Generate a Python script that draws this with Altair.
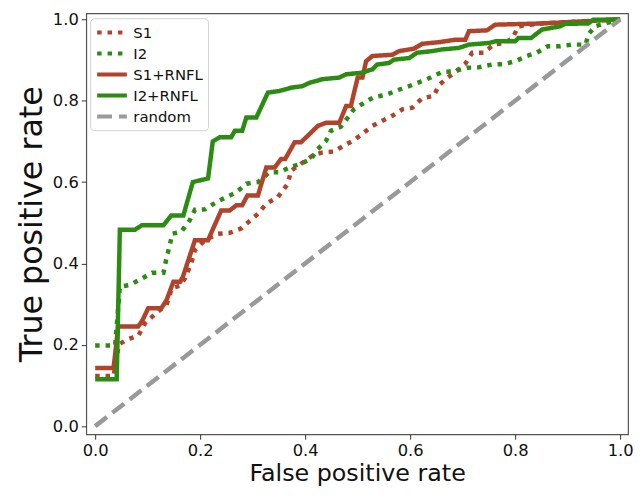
import altair as alt
import pandas as pd

# ---- data ----
S1_fpr = [0, .035, .045, .06, .082, .095, .12, .136, .146, .161, .171, .183, .19, .209, .234, .256, .278, .31, .326,
          .348, .367, .373, .392, .414, .433, .455, .474, .493, .512, .528, .547, .566, .585, .604, .623, .645, .655,
          .672, .686, .705, .718, .74, .759, .78, .795, .806, .83, .851, 1.0]
S1_tpr = [.123, .123, .2, .213, .222, .253, .282, .298, .339, .345, .363, .4, .433, .457, .473, .475, .486, .522, .547,
          .563, .596, .628, .645, .665, .673, .675, .69, .703, .722, .738, .751, .763, .779, .783, .806, .812, .839,
          .857, .871, .891, .918, .918, .938, .942, .954, .983, .987, .99, 1.0]

I2_fpr = [0, .038, .047, .066, .089, .108, .13, .135, .142, .147, .164, .18, .19, .209, .231, .237, .269, .288, .31,
          .332, .351, .37, .392, .411, .424, .44, .449, .468, .493, .512, .531, .553, .576, .598, .62, .639, .661,
          .683, .708, .73, .756, .778, .8, .822, .841, .862, .886, .909, .934, .94, .952, 1.0]
I2_tpr = [.198, .198, .343, .347, .363, .377, .377, .408, .445, .473, .478, .506, .532, .533, .551, .555, .575, .596,
          .6, .624, .624, .636, .645, .657, .681, .702, .726, .736, .779, .795, .809, .814, .826, .836, .847, .857,
          .871, .872, .881, .882, .889, .89, .897, .91, .918, .934, .934, .938, .938, .964, .983, 1.0]

S1R_fpr = [0, .035, .044, .082, .09, .101, .126, .136, .149, .162, .167, .19, .215, .222, .24, .256, .269, .28, .29,
           .31, .326, .342, .354, .362, .38, .392, .405, .424, .44, .465, .478, .487, .5, .509, .516, .528, .566, .579,
           .607, .623, .655, .686, .705, .712, .746, .762, .851, 1.0]
S1R_tpr = [.143, .143, .245, .245, .26, .29, .29, .31, .355, .355, .367, .457, .457, .478, .53, .53, .543, .543, .567,
           .567, .636, .636, .657, .657, .698, .698, .714, .738, .746, .746, .787, .787, .857, .857, .897, .91, .913,
           .922, .928, .94, .944, .95, .95, .971, .973, .987, .99, 1.0]

I2R_fpr = [0, .041, .047, .076, .089, .13, .145, .168, .186, .215, .224, .237, .259, .266, .28, .288, .307, .329,
           .351, .373, .395, .408, .433, .465, .478, .509, .522, .528, .537, .56, .569, .598, .613, .642, .66, .693,
           .712, .75, .762, .8, .806, .83, .851, .886, .895, .939, .949, 1.0]
I2R_tpr = [.115, .115, .483, .483, .494, .494, .518, .518, .60, .609, .70, .71, .71, .726, .726, .759, .759, .82,
           .824, .832, .836, .844, .853, .857, .865, .869, .875, .877, .889, .893, .901, .905, .918, .922, .926, .93,
           .938, .942, .946, .946, .954, .954, .975, .983, .989, .99, .999, 1.0]

RAND_fpr = [0.0, 1.0]
RAND_tpr = [0.0, 1.0]

series_names = ["S1", "I2", "S1+RNFL", "I2+RNFL", "random"]
series_colors = ["#b0432a", "#2b8c12", "#b0432a", "#2b8c12", "#999999"]
series_dash = [[4.5, 6], [4.5, 6], [1, 0], [1, 0], [15, 7]]

rows = []
for name, fx, ty in zip(series_names,
                        [S1_fpr, I2_fpr, S1R_fpr, I2R_fpr, RAND_fpr],
                        [S1_tpr, I2_tpr, S1R_tpr, I2R_tpr, RAND_tpr]):
    for i, (a, b) in enumerate(zip(fx, ty)):
        rows.append({"series": name, "fpr": a, "tpr": b, "idx": i})
df = pd.DataFrame(rows)

x_ticks = [0.0, 0.2, 0.4, 0.6, 0.8, 1.0]
y_ticks = [0.0, 0.2, 0.4, 0.6, 0.8, 1.0]

chart = alt.Chart(df).mark_line(strokeWidth=4.5, strokeCap="butt", strokeJoin="miter", clip=True).encode(
    x=alt.X("fpr:Q", title="False positive rate",
            scale=alt.Scale(domain=[-0.017, 1.015], nice=False, zero=False),
            axis=alt.Axis(values=x_ticks, format=".1f", grid=False, labelFlush=False,
                          titlePadding=3, titleFontSize=24)),
    y=alt.Y("tpr:Q", title="True positive rate",
            scale=alt.Scale(domain=[-0.02, 1.015], nice=False, zero=False),
            axis=alt.Axis(values=y_ticks, format=".1f", grid=False, labelFlush=False,
                          titlePadding=4, titleFontSize=32)),
    color=alt.Color("series:N", title=None,
                    scale=alt.Scale(domain=series_names, range=series_colors),
                    legend=alt.Legend(orient="none", legendX=4, legendY=5,
                                      symbolType="M-2,0H2", symbolSize=225, symbolOffset=7.5,
                                      symbolStrokeWidth=4, labelFontSize=15,
                                      labelFont="DejaVu Sans", labelColor="#111", rowPadding=3.2,
                                      padding=5, cornerRadius=4, strokeColor="#d0d0d0",
                                      fillColor="white", labelOffset=12)),
    strokeDash=alt.StrokeDash("series:N", title=None,
                              scale=alt.Scale(domain=series_names, range=series_dash)),
    order=alt.Order("idx:Q"),
).properties(
    width=547, height=425,
    autosize=alt.AutoSizeParams(type="none"),
    padding={"left": 79, "top": 3, "right": 6, "bottom": 60},
    background="white",
).configure_view(
    stroke="#555555", strokeWidth=1.2
).configure_axis(
    domain=False, tickColor="#333", tickSize=5, labelFontSize=16.5,
    labelFont="DejaVu Sans", titleFont="DejaVu Sans", labelColor="#111", titleColor="#111",
    titleFontWeight="normal", labelPadding=3
)

chart.save("out.html", embed_options={"renderer": "svg", "actions": False})
